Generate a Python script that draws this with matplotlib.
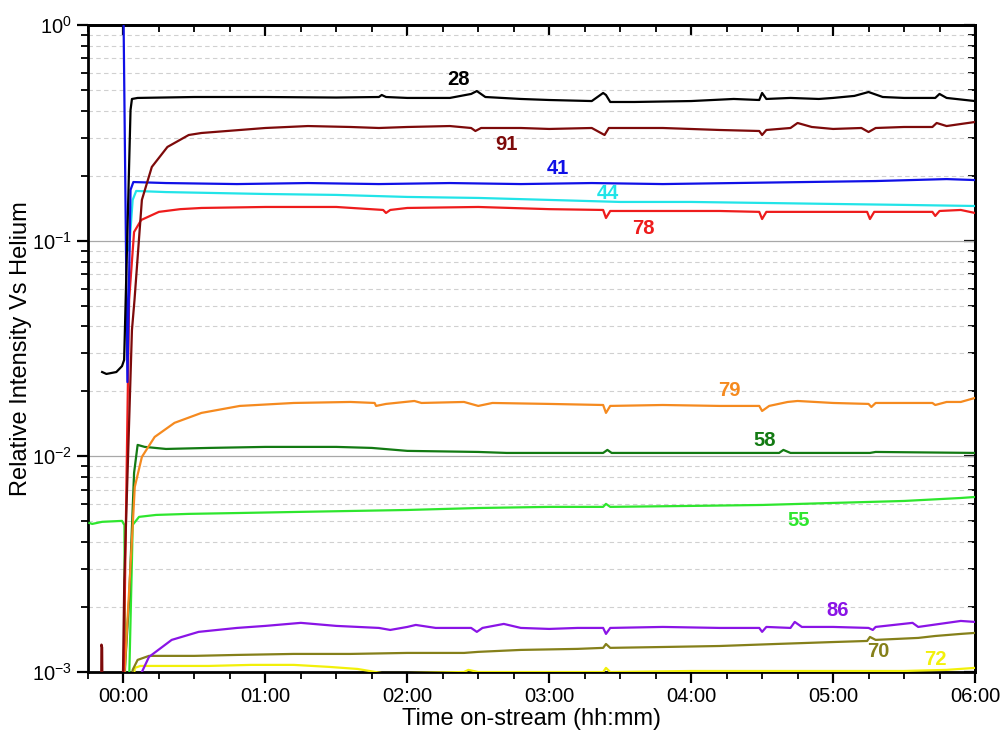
import matplotlib
matplotlib.use('Agg')
import matplotlib.pyplot as plt
from matplotlib.ticker import MultipleLocator, LogLocator, NullFormatter

plt.rcParams['font.family'] = ['Liberation Sans', 'DejaVu Sans']
plt.rcParams['mathtext.fontset'] = 'custom'
plt.rcParams['mathtext.rm'] = 'Liberation Sans'
plt.rcParams['mathtext.it'] = 'Liberation Sans:italic'

# time on-stream in hours, relative intensity vs helium for each m/z
t_28 = [-0.15, -0.12, -0.05, -0.01, 0.005, 0.05, 0.06, 0.1, 0.5, 1.0, 1.5, 1.8, 1.82, 1.85, 2.0, 2.3,
        2.45, 2.49, 2.55, 2.8, 3.0, 3.3, 3.38, 3.40, 3.43, 3.6, 4.0, 4.3, 4.48, 4.5, 4.53, 4.7, 4.9,
        5.0, 5.15, 5.25, 5.35, 5.5, 5.72, 5.75, 5.8, 6.0]
v_28 = [0.0246, 0.0241, 0.0246, 0.0262, 0.028, 0.4035, 0.454, 0.459, 0.4636, 0.4636, 0.461, 0.4636,
        0.4737, 0.4636, 0.459, 0.459, 0.479, 0.494, 0.4636, 0.454, 0.449, 0.444, 0.484, 0.4737,
        0.4396, 0.4396, 0.444, 0.454, 0.449, 0.484, 0.454, 0.459, 0.454, 0.459, 0.469, 0.489, 0.4636,
        0.459, 0.459, 0.479, 0.459, 0.444]

t_91 = [-0.17, -0.157, -0.155, -0.15, -0.148, -0.005, 0.006, 0.06, 0.078, 0.13, 0.2, 0.31, 0.46, 0.55,
        1.0, 1.3, 1.6, 1.8, 2.0, 2.3, 2.45, 2.48, 2.52, 2.8, 3.0, 3.3, 3.39, 3.42, 3.8, 4.2, 4.48, 4.5,
        4.53, 4.7, 4.75, 4.85, 5.0, 5.2, 5.25, 5.3, 5.5, 5.7, 5.73, 5.8, 5.9, 6.0]
v_91 = [0.0008, 0.0008, 0.00134, 0.0013, 0.0008, 0.0008, 0.00267, 0.0385, 0.0531, 0.1545, 0.2197,
        0.272, 0.309, 0.3157, 0.333, 0.340, 0.3366, 0.333, 0.3366, 0.340, 0.333, 0.3225, 0.333, 0.333,
        0.3296, 0.333, 0.309, 0.333, 0.333, 0.326, 0.3225, 0.309, 0.326, 0.333, 0.3513, 0.3366,
        0.3296, 0.333, 0.319, 0.333, 0.3366, 0.3366, 0.3513, 0.340, 0.3475, 0.355]

t_41 = [-0.01, 0.0, 0.028, 0.05, 0.07, 0.3, 0.8, 1.3, 1.8, 2.3, 2.8, 3.3, 3.8, 4.3, 4.8, 5.3, 5.8, 6.0]
v_41 = [3.0, 1.2, 0.0221, 0.172, 0.187, 0.185, 0.183, 0.185, 0.183, 0.185, 0.183, 0.185, 0.183,
        0.185, 0.187, 0.189, 0.193, 0.191]

t_44 = [0.04, 0.065, 0.09, 0.3, 1.0, 1.5, 2.0, 2.5, 3.0, 3.5, 4.0, 4.5, 5.0, 5.5, 6.0]
v_44 = [0.0905, 0.1545, 0.170, 0.168, 0.1646, 0.163, 0.1595, 0.1578, 0.1545, 0.1512, 0.1512,
        0.1496, 0.148, 0.1465, 0.1448]

t_78 = [0.0, 0.04, 0.075, 0.125, 0.25, 0.4, 0.55, 1.0, 1.5, 1.83, 1.85, 1.88, 2.0, 2.5, 3.0, 3.38,
        3.4, 3.43, 3.8, 4.2, 4.48, 4.5, 4.53, 5.0, 5.24, 5.26, 5.29, 5.7, 5.72, 5.75, 5.9, 6.0]
v_78 = [0.0008, 0.0531, 0.1097, 0.1247, 0.136, 0.140, 0.1418, 0.1433, 0.1433, 0.1388, 0.1344,
        0.1388, 0.1418, 0.1433, 0.140, 0.1388, 0.1274, 0.1373, 0.1373, 0.1373, 0.136, 0.126, 0.136,
        0.136, 0.136, 0.126, 0.136, 0.136, 0.1302, 0.1373, 0.1388, 0.1344]

t_79 = [0.0, 0.06, 0.08, 0.13, 0.22, 0.36, 0.55, 0.82, 1.2, 1.6, 1.77, 1.78, 1.85, 2.05, 2.1, 2.4,
        2.5, 2.6, 3.0, 3.38, 3.4, 3.43, 3.8, 4.2, 4.48, 4.5, 4.55, 4.68, 4.75, 5.0, 5.25, 5.27, 5.3,
        5.7, 5.72, 5.8, 5.9, 6.0]
v_79 = [0.0008, 0.0041, 0.00722, 0.00994, 0.0123, 0.0143, 0.0159, 0.01713, 0.01768, 0.01787,
        0.01768, 0.01713, 0.0175, 0.01806, 0.01768, 0.01787, 0.01713, 0.01768, 0.0175, 0.0173,
        0.0159, 0.01713, 0.0173, 0.01713, 0.01713, 0.01623, 0.01713, 0.01787, 0.01806, 0.01768,
        0.0175, 0.01694, 0.01768, 0.01768, 0.0173, 0.01787, 0.01787, 0.01866]

t_58 = [0.0, 0.04, 0.075, 0.1, 0.15, 0.3, 0.6, 1.0, 1.5, 1.75, 2.0, 2.5, 2.7, 3.0, 3.38, 3.41, 3.44,
        4.0, 4.5, 4.62, 4.65, 4.7, 5.26, 5.3, 6.0]
v_58 = [0.0008, 0.00216, 0.00838, 0.0113, 0.01106, 0.01082, 0.01094, 0.01106, 0.01106, 0.01094,
        0.0106, 0.01048, 0.01037, 0.01037, 0.01037, 0.01071, 0.01037, 0.01037, 0.01037, 0.01037,
        0.01071, 0.01037, 0.01037, 0.01048, 0.01037]

t_55 = [-0.24, -0.22, -0.15, -0.01, 0.007, 0.012, 0.04, 0.06, 0.065, 0.11, 0.23, 0.46, 0.81, 1.2,
        1.6, 2.0, 2.5, 3.0, 3.38, 3.4, 3.43, 4.0, 4.5, 5.0, 5.5, 5.9, 6.0]
v_55 = [0.00491, 0.00486, 0.00497, 0.00502, 0.00480, 0.0008, 0.0009, 0.00331, 0.00481, 0.00524,
        0.00535, 0.00541, 0.00546, 0.00552, 0.00558, 0.00564, 0.00576, 0.00583, 0.00583, 0.00602,
        0.00583, 0.00589, 0.00595, 0.00608, 0.00621, 0.00641, 0.00648]

t_86 = [0.11, 0.13, 0.18, 0.34, 0.53, 0.8, 1.0, 1.25, 1.5, 1.8, 1.88, 2.0, 2.06, 2.2, 2.45, 2.49,
        2.53, 2.68, 2.8, 3.0, 3.2, 3.38, 3.4, 3.43, 3.8, 4.2, 4.48, 4.5, 4.53, 4.7, 4.73, 4.78, 5.0,
        5.25, 5.28, 5.3, 5.56, 5.6, 5.9, 6.0]
v_86 = [0.0009, 0.001, 0.001175, 0.001409, 0.001535, 0.001601, 0.001636, 0.00169, 0.001636,
        0.001601, 0.001567, 0.001618, 0.001653, 0.001601, 0.001601, 0.001535, 0.001601, 0.001671,
        0.001601, 0.001584, 0.001601, 0.001601, 0.001502, 0.001601, 0.001618, 0.001601, 0.001601,
        0.001535, 0.001618, 0.001601, 0.001707, 0.001618, 0.001618, 0.001601, 0.001567, 0.001618,
        0.00169, 0.001618, 0.001725, 0.001707]

t_70 = [0.06, 0.065, 0.1, 0.18, 0.5, 0.8, 1.2, 1.6, 2.0, 2.4, 2.5, 2.8, 3.2, 3.38, 3.4, 3.43, 3.8,
        4.2, 4.6, 5.0, 5.24, 5.26, 5.3, 5.6, 5.72, 5.9, 6.0]
v_70 = [0.0009, 0.001023, 0.001138, 0.001188, 0.001188, 0.0012, 0.001213, 0.001213, 0.001226,
        0.001226, 0.00124, 0.001266, 0.00128, 0.001294, 0.001349, 0.001294, 0.001306, 0.00132,
        0.001349, 0.001377, 0.001393, 0.001454, 0.001409, 0.001439, 0.001469, 0.001502, 0.001518]

t_72 = [0.07, 0.08, 0.12, 0.3, 0.6, 0.9, 1.2, 1.45, 1.65, 1.82, 2.0, 2.4, 2.43, 2.5, 3.0, 3.38, 3.4,
        3.43, 4.0, 4.5, 5.0, 5.5, 5.8, 6.0]
v_72 = [0.0009, 0.001045, 0.001067, 0.001067, 0.001067, 0.001079, 0.001079, 0.001056, 0.001033,
        0.000989, 0.000989, 0.001, 0.001023, 0.001, 0.001, 0.001, 0.001045, 0.001, 0.001011,
        0.001011, 0.001011, 0.001011, 0.001023, 0.001045]

# mass labels: name, colour, label position (hours, intensity)
series = [
    ('28', '#000000', t_28, v_28, 2.36, 0.556),
    ('91', '#7d0a0a', t_91, v_91, 2.70, 0.278),
    ('41', '#1010e6', t_41, v_41, 3.06, 0.217),
    ('44', '#22e4e8', t_44, v_44, 3.41, 0.1646),
    ('78', '#ee1c1c', t_78, v_78, 3.66, 0.1133),
    ('79', '#f58a1f', t_79, v_79, 4.27, 0.0201),
    ('58', '#137a13', t_58, v_58, 4.52, 0.0119),
    ('55', '#2ee62e', t_55, v_55, 4.76, 0.00502),
    ('86', '#8a14e6', t_86, v_86, 5.035, 0.00192),
    ('70', '#85801a', t_70, v_70, 5.32, 0.00124),
    ('72', '#f2f00a', t_72, v_72, 5.72, 0.001138),
]

hour_labels = ['00:00', '01:00', '02:00', '03:00', '04:00', '05:00', '06:00']

fig = plt.figure(figsize=(10.04, 7.31), dpi=100)
ax = fig.add_axes([0.0876, 0.0807, 0.8835, 0.8851])

# draw the low ones first so the big signals sit on top
for name, col, t, v, lx, ly in reversed(series):
    ax.plot(t, v, color=col, lw=1.6, zorder=3)
    ax.text(lx, ly, name, color=col, fontsize=14.5, fontweight='bold',
            ha='center', va='center', zorder=4)

ax.set_yscale('log')
ax.set_ylim(1e-3, 1)
ax.set_xlim(-0.25, 6)

ax.set_xticks(range(7))
ax.set_xticklabels(hour_labels)
ax.xaxis.set_minor_locator(MultipleLocator(0.25))
ax.yaxis.set_major_locator(LogLocator(base=10, numticks=10))
ax.yaxis.set_minor_locator(LogLocator(base=10, subs=range(2, 10), numticks=10))
ax.yaxis.set_minor_formatter(NullFormatter())

ax.tick_params(which='major', direction='out', length=8, width=1.6, labelsize=14.5)
ax.tick_params(which='minor', direction='out', length=5, width=1.3)
ax.tick_params(axis='x', pad=3)

ax.grid(which='major', axis='y', color='#a8a8a8', lw=0.9)
ax.grid(which='minor', axis='y', color='#d0d0d0', lw=0.8, ls=(0, (4, 3)))
ax.set_axisbelow(True)

for s in ax.spines.values():
    s.set_linewidth(2)

# mirrored ticks on top and right, pointing inward
top = ax.secondary_xaxis('top')
top.set_xticks(range(7))
top.xaxis.set_minor_locator(MultipleLocator(0.25))
top.tick_params(which='major', direction='in', length=8, width=1.6, labeltop=False)
top.tick_params(which='minor', direction='in', length=5, width=1.3)
top.spines['top'].set_linewidth(2)

right = ax.secondary_yaxis('right')
right.yaxis.set_major_locator(LogLocator(base=10, numticks=10))
right.yaxis.set_minor_locator(LogLocator(base=10, subs=range(2, 10), numticks=10))
right.tick_params(which='major', direction='in', length=8, width=1.6, labelright=False)
right.tick_params(which='minor', direction='in', length=5, width=1.3, labelright=False)
right.spines['right'].set_linewidth(2)

ax.set_xlabel('Time on-stream (hh:mm)', fontsize=17, labelpad=1)
ax.set_ylabel('Relative Intensity Vs Helium', fontsize=17, labelpad=0)

fig.savefig('out.png', dpi=100, facecolor='white')
